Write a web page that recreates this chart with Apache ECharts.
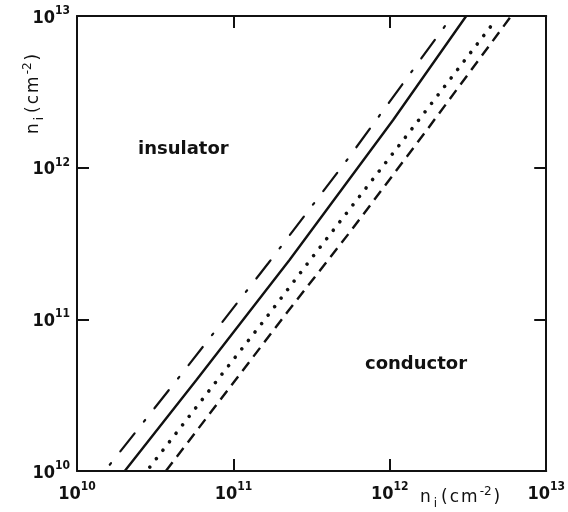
<!DOCTYPE html>
<html>
<head>
<meta charset="utf-8">
<script src="https://cdn.jsdelivr.net/npm/echarts@6/dist/echarts.min.js"></script>
<style>
  html, body { margin: 0; padding: 0; background: #fff; }
  #chart { width: 568px; height: 512px; }
</style>
</head>
<body>
<div id="chart"></div>
<script>
// Axis range (decades) for both densities, in cm^-2
const axisMin = 1e10;
const axisMax = 1e13;

// Boundary curves between insulating and conducting regimes: [x, y]
const solidLine = [[2.02e10, 1e10], [5.8e10, 3.98e10], [2.29e11, 2.47e11], [1.05e12, 2.06e12], [3.08e12, 1e13]];
const dashDotLine = [[1.62e10, 1.10e10], [4.89e10, 4.64e10], [1.68e11, 2.36e11], [5.21e11, 1.09e12], [2.51e12, 1e13]];
const dottedLine = [[2.92e10, 1.06e10], [8.18e10, 4.17e10], [1.58e11, 9.9e10], [3.03e11, 2.39e11], [1.48e12, 1.97e12], [4.65e12, 9.13e12]];
const dashedLine = [[3.70e10, 1e10], [2.19e11, 1.10e11], [5.69e11, 3.88e11], [1.71e12, 1.75e12], [5.97e12, 1e13]];

// Region names
const regionLabels = ['insulator', 'conductor'];

const FONT = '"DejaVu Sans Condensed", "DejaVu Sans", sans-serif';
const FONT_REG = '"DejaVu Sans", sans-serif';
const INK = '#111';

function powLabel(v) {
  const e = Math.round(Math.log10(v));
  return '{b|10}{s|' + e + '}';
}
const powRich = {
  b: { fontFamily: FONT, fontWeight: 'bold', fontSize: 18, color: INK, lineHeight: 22, verticalAlign: 'bottom' },
  s: { fontFamily: FONT, fontWeight: 'bold', fontSize: 12, color: INK, lineHeight: 22, verticalAlign: 'top' }
};

const axisLine = { show: true, lineStyle: { color: INK, width: 2 } };
const tickIn = { show: true, inside: true, length: 12, lineStyle: { color: INK, width: 2 } };

function logAxis(extra) {
  return Object.assign({
    type: 'log', logBase: 10, min: axisMin, max: axisMax,
    axisLine: axisLine, axisTick: tickIn,
    minorTick: { show: false }, splitLine: { show: false }
  }, extra);
}

// Spaced-out "n_i (cm^-2)" label
const titleRich = {
  m: { fontFamily: FONT_REG, fontSize: 17, fill: INK, lineHeight: 24, verticalAlign: 'middle', padding: [0, 2, 0, 0] },
  sub: { fontFamily: FONT_REG, fontSize: 12, fill: INK, lineHeight: 24, verticalAlign: 'bottom', padding: [0, 4, 0, 1] },
  sup: { fontFamily: FONT_REG, fontSize: 12, fill: INK, lineHeight: 24, verticalAlign: 'top', padding: [0, 2, 0, 0] }
};
const titleText = '{m|n}{sub|i}{m|(}{m|c}{m|m}{sup|-2}{m|)}';

const chart = echarts.init(document.getElementById('chart'), null, { renderer: 'canvas' });

chart.setOption({
  animation: false,
  backgroundColor: '#fff',
  grid: { left: 77, right: 21, top: 16, bottom: 41, containLabel: false },
  xAxis: [
    logAxis({ position: 'bottom',
      axisLabel: { formatter: powLabel, rich: powRich, margin: 10, showMinLabel: true, showMaxLabel: true } }),
    logAxis({ position: 'top', axisLabel: { show: false } })
  ],
  yAxis: [
    logAxis({ position: 'left',
      axisLabel: { formatter: powLabel, rich: powRich, margin: 7, showMinLabel: true, showMaxLabel: true } }),
    logAxis({ position: 'right', axisLabel: { show: false } })
  ],
  series: [
    { type: 'line', data: dashDotLine, symbol: 'none',
      lineStyle: { color: INK, width: 2.2, type: [23, 15, 2, 15], dashOffset: 38, cap: 'round' } },
    { type: 'line', data: solidLine, symbol: 'none',
      lineStyle: { color: INK, width: 2.4 } },
    { type: 'line', data: dottedLine, symbol: 'none',
      lineStyle: { color: INK, width: 3.6, type: [0.1, 10.6], cap: 'round' } },
    { type: 'line', data: dashedLine, symbol: 'none',
      lineStyle: { color: INK, width: 2.4, type: [11, 7] } }
  ],
  graphic: [
    { type: 'text', left: 138, top: 140,
      style: { text: regionLabels[0], font: 'bold 18px "DejaVu Sans"', fill: INK } },
    { type: 'text', left: 365, top: 355,
      style: { text: regionLabels[1], font: 'bold 18px "DejaVu Sans"', fill: INK } },
    // x-axis title
    { type: 'text', x: 420, y: 486, style: { text: titleText, rich: titleRich } },
    // y-axis title, reading upward
    { type: 'text', x: 22, y: 134, rotation: Math.PI / 2, style: { text: titleText, rich: titleRich } }
  ]
});
</script>
</body>
</html>
